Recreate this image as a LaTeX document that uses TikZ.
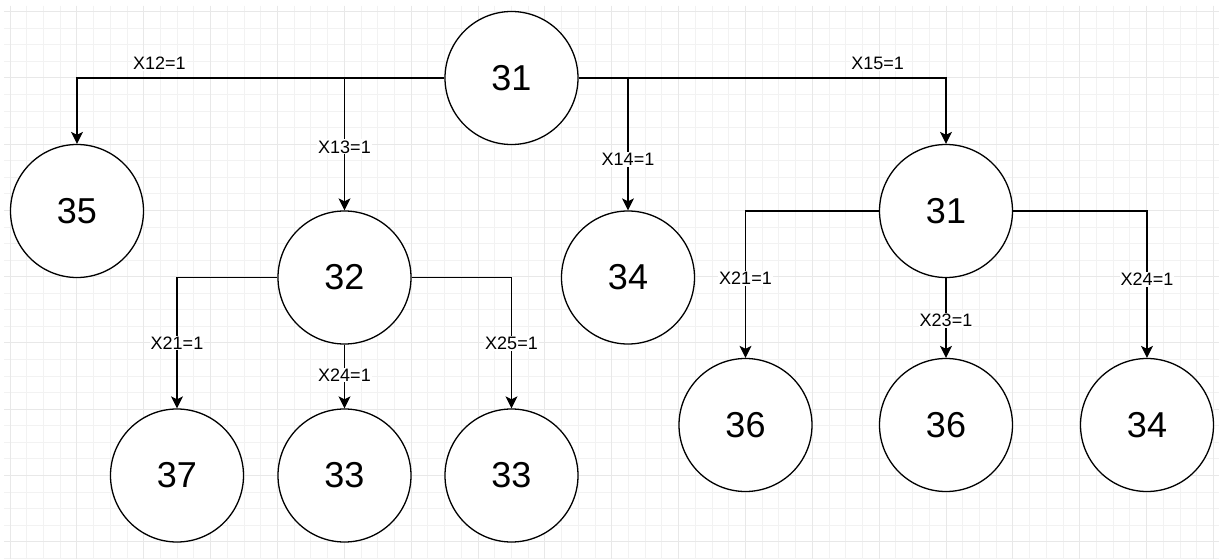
\documentclass[tikz,border=0pt]{standalone}
\usepackage{fontspec}
\setmainfont{Liberation Sans}
\usetikzlibrary{arrows.meta}
\begin{document}
\begin{tikzpicture}[x=1pt,y=-1pt,
  state/.style={circle,draw=black,line width=1.3pt,fill=white,minimum size=133pt,inner sep=0pt,font=\fontsize{36}{40}\selectfont},
  conn/.style={draw=black,line width=1.3pt,-{Stealth[length=12pt,width=12pt,inset=3pt]}},
  lbl/.style={fill=white,inner sep=1pt,font=\fontsize{18}{20}\selectfont},
  minorgrid/.style={draw=black!5,line width=1pt},
  majorgrid/.style={draw=black!9,line width=1pt}]
\useasboundingbox (0,0) rectangle (1219,559);
\fill[white] (0,0) rectangle (1219,559);
% grid
\foreach \i in {0,...,72} \draw[minorgrid] ({10+16.715*\i},6) -- ({10+16.715*\i},559);
\foreach \j in {0,...,33} \draw[minorgrid] (4,{11.7+16.5625*\j}) -- (1219,{11.7+16.5625*\j});
\foreach \i in {0,4,...,72} \draw[majorgrid] ({10+16.715*\i},6) -- ({10+16.715*\i},559);
\foreach \j in {0,4,...,32} \draw[majorgrid] (4,{11.7+16.5625*\j}) -- (1219,{11.7+16.5625*\j});
% nodes
\node[state] (root) at (511.5,78) {31};
\node[state] (n35) at (77,211) {35};
\node[state] (n32) at (344.5,277.5) {32};
\node[state] (n34) at (628,277.5) {34};
\node[state] (r31) at (946,211) {31};
\node[state] (n37) at (177,475.5) {37};
\node[state] (n33a) at (344.5,475.5) {33};
\node[state] (n33b) at (511.5,475.5) {33};
\node[state] (n36a) at (745.5,425) {36};
\node[state] (n36b) at (946,425) {36};
\node[state] (n34b) at (1147,425) {34};
% connectors
\draw[conn] (root.west) -| node[pos=0.388,above=6.5pt,lbl]{X12=1} (n35.north);
\draw[conn] (root.west) -| node[pos=0.76,lbl]{X13=1} (n32.north);
\draw[conn] (root.east) -| node[pos=0.808,lbl]{X14=1} (n34.north);
\draw[conn] (root.east) -| node[pos=0.407,above=6.5pt,lbl]{X15=1} (r31.north);
\draw[conn] (n32.west) -| node[pos=0.751,lbl]{X21=1} (n37.north);
\draw[conn] (n32.south) -- node[pos=0.477,lbl]{X24=1} (n33a.north);
\draw[conn] (n32.east) -| node[pos=0.751,lbl]{X25=1} (n33b.north);
\draw[conn] (r31.west) -| node[pos=0.73,lbl]{X21=1} (n36a.north);
\draw[conn] (r31.south) -- node[pos=0.53,lbl]{X23=1} (n36b.north);
\draw[conn] (r31.east) -| node[pos=0.733,lbl]{X24=1} (n34b.north);
\end{tikzpicture}
\end{document}
